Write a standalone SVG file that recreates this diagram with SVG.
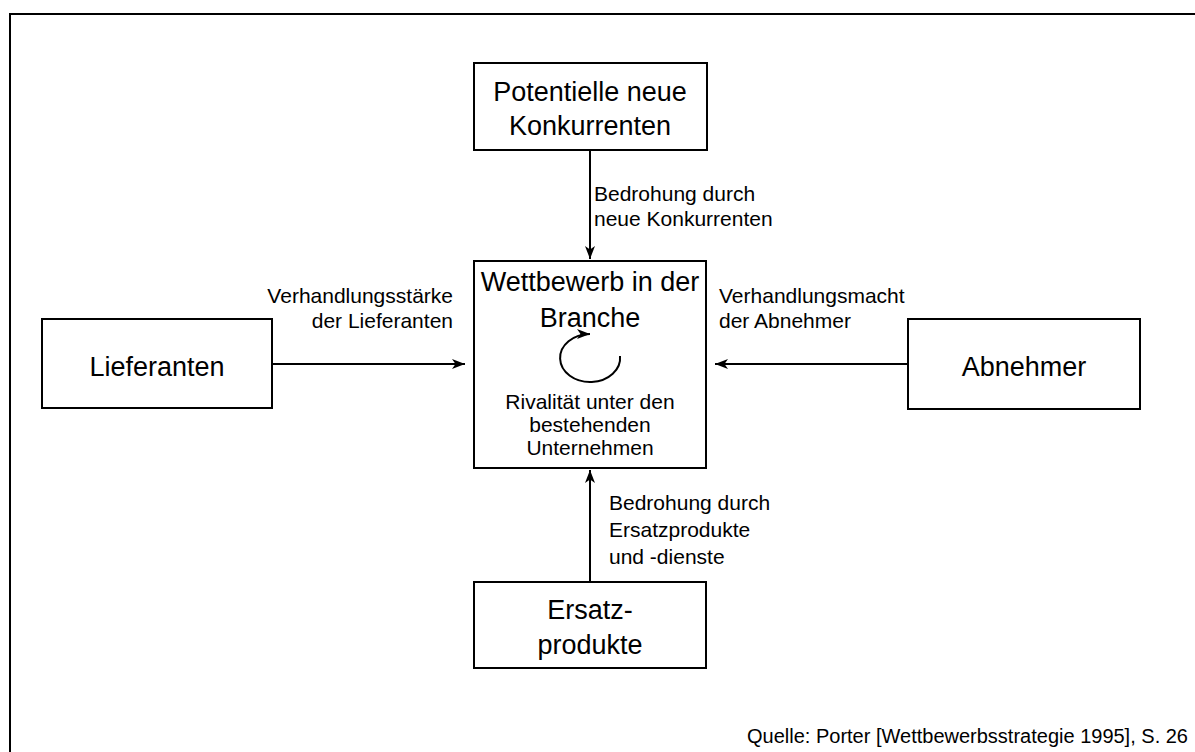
<svg xmlns="http://www.w3.org/2000/svg" width="1195" height="752" viewBox="0 0 1195 752">
  <style>
    .box { fill: #fff; stroke: #000; stroke-width: 2; }
    .big { font-family: "Liberation Sans", Arial, sans-serif; font-size: 27px; fill: #000; text-anchor: middle; }
    .small { font-family: "Liberation Sans", Arial, sans-serif; font-size: 21px; fill: #000; }
    .mid { text-anchor: middle; }
    .end { text-anchor: end; }
    .conn { stroke: #000; stroke-width: 2; fill: none; }
  </style>
  <defs>
    <marker id="head" markerUnits="userSpaceOnUse" markerWidth="14" markerHeight="11" refX="13" refY="5.5" orient="auto">
      <path d="M0,0.5 L13,5.5 L0,10.5 L3.5,5.5 Z" fill="#000"/>
    </marker>
  </defs>

  <rect width="1195" height="752" fill="#fff"/>
  <!-- outer frame -->
  <path d="M1200,14 L10,14 L10,760" fill="none" stroke="#000" stroke-width="2"/>

  <!-- connectors -->
  <g id="connectors">
    <line class="conn" x1="590" y1="150" x2="590" y2="259" marker-end="url(#head)"/>
    <line class="conn" x1="590" y1="582" x2="590" y2="470" marker-end="url(#head)"/>
    <line class="conn" x1="272" y1="364" x2="465" y2="364" marker-end="url(#head)"/>
    <line class="conn" x1="908" y1="364" x2="715" y2="364" marker-end="url(#head)"/>
  </g>

  <g id="new-entrants">
    <rect class="box" x="474" y="63" width="233" height="87"/>
    <text class="big" x="590" y="101">Potentielle neue</text>
    <text class="big" x="590" y="135">Konkurrenten</text>
  </g>

  <g id="industry">
    <rect class="box" x="474" y="261" width="232" height="207"/>
    <text class="big" x="590" y="291">Wettbewerb in der</text>
    <text class="big" x="590" y="327">Branche</text>
    <!-- rivalry loop -->
    <path class="conn" d="M620,356 A30,24 0 1 1 590,334" stroke-width="1.6" marker-end="url(#head)"/>
    <text class="small mid" x="590" y="409">Rivalität unter den</text>
    <text class="small mid" x="590" y="432">bestehenden</text>
    <text class="small mid" x="590" y="455">Unternehmen</text>
  </g>

  <g id="suppliers">
    <rect class="box" x="42" y="319" width="230" height="89"/>
    <text class="big" x="157" y="376">Lieferanten</text>
  </g>

  <g id="buyers">
    <rect class="box" x="908" y="319" width="232" height="90"/>
    <text class="big" x="1024" y="376">Abnehmer</text>
  </g>

  <g id="substitutes">
    <rect class="box" x="474" y="582" width="232" height="86"/>
    <text class="big" x="590" y="619">Ersatz-</text>
    <text class="big" x="590" y="654">produkte</text>
  </g>

  <g id="labels">
    <text class="small" x="594" y="201">Bedrohung durch</text>
    <text class="small" x="594" y="226">neue Konkurrenten</text>
    <text class="small end" x="453" y="303">Verhandlungsstärke</text>
    <text class="small end" x="453" y="328">der Lieferanten</text>
    <text class="small" x="719" y="303">Verhandlungsmacht</text>
    <text class="small" x="719" y="328">der Abnehmer</text>
    <text class="small" x="609" y="510">Bedrohung durch</text>
    <text class="small" x="609" y="537">Ersatzprodukte</text>
    <text class="small" x="609" y="564">und -dienste</text>
  </g>

  <text class="small end" x="1188" y="743" style="font-size:20px">Quelle: Porter [Wettbewerbsstrategie 1995], S. 26</text>
</svg>
